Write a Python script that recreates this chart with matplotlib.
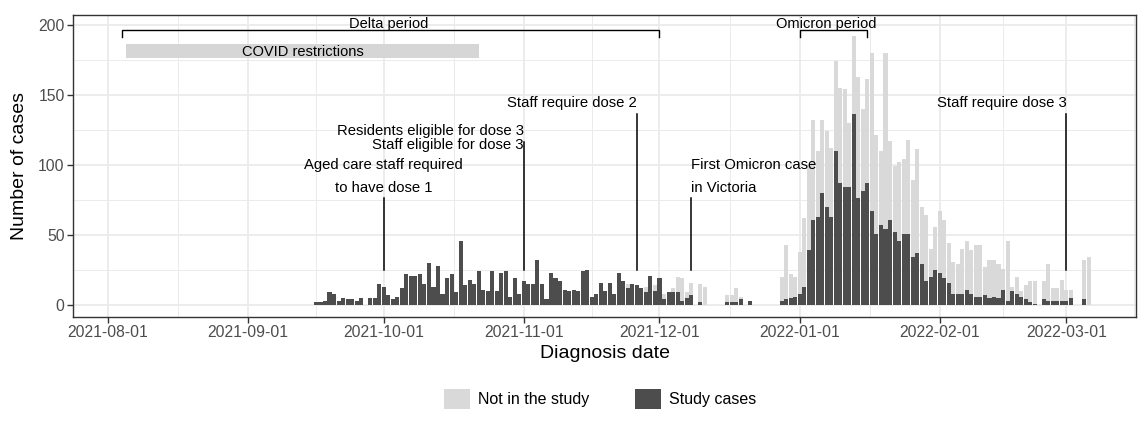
import numpy as np
import pandas as pd
import matplotlib
matplotlib.use("Agg")
import matplotlib.pyplot as plt
import matplotlib.dates as mdates
from matplotlib.patches import Patch

plt.rcParams['font.family'] = ['Liberation Sans', 'DejaVu Sans']

# ---------------- data ----------------
first_day = "2021-09-16"

study_cases = (
    [2, 2, 3, 9, 8, 3, 5, 4, 4, 3, 5, 0, 5, 5, 15] +                      # Sep 16-30
    [13, 7, 4, 6, 12, 22, 21, 21, 22, 15, 30, 13, 28, 8, 19, 22, 9, 46, 14,
     18, 15, 24, 11, 10, 24, 10, 23, 24, 6, 19, 8] +                       # Oct
    [17, 15, 15, 32, 15, 4, 23, 19, 17, 11, 10, 11, 10, 24, 25, 6, 8, 16,
     10, 16, 8, 23, 17, 12, 15, 14, 12, 9, 21, 10] +                       # Nov
    [19, 4, 9, 9, 9, 3, 5, 7, 0, 2, 0, 0, 0, 0, 0, 2, 2, 2, 4, 0, 3, 0, 0,
     0, 0, 0, 0, 3, 4, 5, 6] +                                             # Dec
    [8, 13, 39, 61, 63, 80, 70, 63, 110, 87, 84, 84, 136, 76, 81, 87, 67,
     51, 57, 54, 61, 52, 46, 51, 51, 34, 37, 29, 17, 20, 25] +             # Jan
    [23, 19, 16, 8, 8, 8, 11, 8, 6, 6, 7, 5, 6, 5, 11, 3, 10, 8, 6, 4, 2,
     1, 0, 4, 3, 3, 3, 3] +                                                # Feb
    [3, 5, 0, 0, 4, 0]                                                     # Mar 1-6
)

not_in_study = (
    [0] * 15 +
    [0] * 31 +
    [0] * 23 + [3, 0, 0, 0, 4, 0, 4] +
    [0, 4, 0, 3, 11, 16, 4, 9, 0, 13, 13, 0, 0, 0, 0, 5, 5, 10, 2, 0, 0, 0,
     0, 0, 0, 0, 0, 17, 39, 17, 14] +
    [30, 49, 61, 71, 47, 52, 54, 49, 64, 68, 70, 46, 56, 87, 59, 74, 113,
     70, 53, 126, 56, 47, 56, 53, 67, 55, 74, 41, 47, 20, 31] +
    [44, 42, 28, 23, 21, 32, 35, 31, 37, 37, 20, 27, 26, 24, 15, 43, 3, 12,
     4, 10, 15, 16, 0, 13, 26, 9, 9, 15] +
    [8, 6, 0, 0, 28, 34]
)

dates = pd.date_range(first_day, periods=len(study_cases), freq="D")

month_ticks = pd.date_range("2021-08-01", "2022-03-01", freq="MS")
y_ticks = [0, 50, 100, 150, 200]

# annotations: (date, line top, text lines, text y's, alignment)
events = [
    ("2021-10-01", 76, ["Aged care staff required", "to have dose 1"], [100, 83.6], "center"),
    ("2021-11-01", 116, ["Residents eligible for dose 3", "Staff eligible for dose 3"], [124, 114], "right"),
    ("2021-11-26", 136, ["Staff require dose 2"], [144], "right"),
    ("2021-12-08", 76, ["First Omicron case", "in Victoria"], [100, 83.6], "left"),
    ("2022-03-01", 136, ["Staff require dose 3"], [144], "right"),
]
line_bottom = 25

periods = [("Delta period", "2021-08-04", "2021-12-01", "2021-10-02"),
           ("Omicron period", "2022-01-01", "2022-01-16", "2022-01-07")]
restriction = ("COVID restrictions", "2021-08-05", "2021-10-22")

dark = "#4D4D4D"
light = "#D9D9D9"

# ---------------- figure ----------------
fig = plt.figure(figsize=(11.44, 4.23), dpi=100)
ax = fig.add_axes([73 / 1144, 106 / 423, (1136 - 73) / 1144, (317 - 15) / 423])

ax.bar(dates, study_cases, width=0.9, color=dark, linewidth=0, zorder=3)
ax.bar(dates, not_in_study, width=0.9, bottom=study_cases, color=light,
       linewidth=0, zorder=3)

# restrictions bar
r0, r1 = pd.Timestamp(restriction[1]), pd.Timestamp(restriction[2])
ax.fill_between([r0, r1], 176, 186, color="#D6D6D6", linewidth=0, zorder=2)
ax.text(r0 + (r1 - r0) / 2, 180.5, restriction[0], ha="center", va="center",
        fontsize=10.5, color="black", zorder=4)

# period brackets
for label, s, e, tx in periods:
    s, e = pd.Timestamp(s), pd.Timestamp(e)
    ax.plot([s, s, e, e], [191, 196, 196, 191], color="black", lw=1.0,
            solid_joinstyle="miter", zorder=4)
    ax.text(pd.Timestamp(tx), 200.5, label, ha="center", va="center",
            fontsize=10.5, zorder=4)

# event lines
for d, top, texts, ys, ha in events:
    d = pd.Timestamp(d)
    ax.plot([d, d], [line_bottom, top], color="black", lw=1.1, zorder=4)
    for t, yy in zip(texts, ys):
        ax.text(d, yy, t, ha=ha, va="center", fontsize=10.7, zorder=4)

# axes formatting
ax.set_xlim(pd.Timestamp("2021-07-24 06:00"), pd.Timestamp("2022-03-16 10:00"))
ax.set_ylim(-8.6, 207)
ax.set_xticks(month_ticks)
ax.set_xticklabels([d.strftime("%Y-%m-%d") for d in month_ticks])
mids = [month_ticks[i] + (month_ticks[i + 1] - month_ticks[i]) / 2
        for i in range(len(month_ticks) - 1)]
mids.append(month_ticks[-1] + pd.Timedelta(days=15))
ax.set_xticks(mids, minor=True)
ax.set_yticks(y_ticks)
ax.set_yticks([25, 75, 125, 175], minor=True)

ax.grid(which="major", color="#EBEBEB", lw=1.3, zorder=0)
ax.grid(which="minor", color="#EBEBEB", lw=0.7, zorder=0)
ax.set_axisbelow(True)

ax.tick_params(which="major", length=4, width=1, color="#333333",
               labelsize=11.3, labelcolor="#4D4D4D", pad=2)
ax.tick_params(which="minor", length=0)
for sp in ax.spines.values():
    sp.set_color("#333333")
    sp.set_linewidth(1.0)

ax.set_xlabel("Diagnosis date", fontsize=14, labelpad=3)
ax.set_ylabel("Number of cases", fontsize=14, labelpad=7)

handles = [Patch(facecolor=light, edgecolor="none", label="Not in the study"),
           Patch(facecolor=dark, edgecolor="none", label="Study cases")]
fig.legend(handles=handles, loc="center", bbox_to_anchor=(600 / 1144, 1 - 399 / 423),
           ncol=2, frameon=False, fontsize=11.5, handlelength=1.6,
           handleheight=1.6, handletextpad=0.5, columnspacing=2.9)

fig.savefig("out.png", dpi=100)
